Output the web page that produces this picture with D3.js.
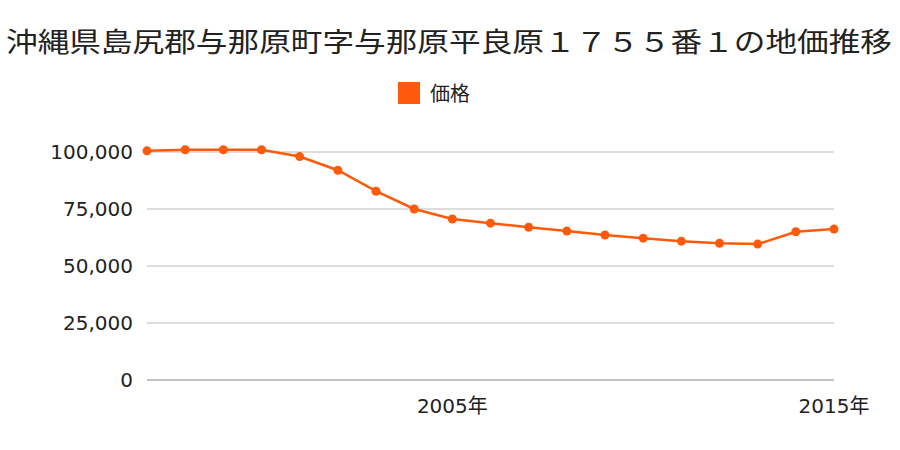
<!DOCTYPE html>
<html><head><meta charset="utf-8">
<script src="https://cdn.jsdelivr.net/npm/d3@7"></script>
<style>body{margin:0;background:#fff;font-family:"Noto Sans CJK JP","Noto Sans",sans-serif;}
.num{font-family:"DejaVu Sans","Noto Sans CJK JP",sans-serif;}</style>
</head><body><div id="chart"></div>
<script>
var years = [1997,1998,1999,2000,2001,2002,2003,2004,2005,2006,2007,2008,2009,2010,2011,2012,2013,2014,2015];
var prices = [100500,101000,101000,101000,98000,92000,82800,75000,70600,68800,67000,65300,63600,62200,60900,60000,59600,65000,66200];
var yTicks = [0,25000,50000,75000,100000];
var xLabels = [2005,2015];

var svg = d3.select("#chart").append("svg").attr("width",900).attr("height",450);
var x = d3.scaleLinear().domain([1997,2015]).range([147,834]);
var y = d3.scaleLinear().domain([0,100000]).range([380,152]);

svg.append("text").attr("x",6).attr("y",52)
	.attr("textLength",886).attr("lengthAdjust","spacingAndGlyphs")
	.style("font-size","27px").attr("fill","#222").text("沖縄県島尻郡与那原町字与那原平良原１７５５番１の地価推移");

svg.append("rect").attr("x",398).attr("y",82).attr("width",22).attr("height",22).attr("fill","#ff5a0a");
svg.append("text").attr("x",430).attr("y",101).style("font-size","20px").attr("fill","#222").text("価格");

svg.selectAll(".grid").data(yTicks).enter().append("line")
	.attr("x1",147).attr("x2",834).attr("y1",d=>y(d)).attr("y2",d=>y(d))
	.attr("stroke",d=>d===0?"#888":"#bbb").attr("stroke-width",1);
svg.selectAll(".yl").data(yTicks).enter().append("text").attr("class","num")
	.attr("x",133).attr("y",d=>y(d)+7).attr("text-anchor","end")
	.style("font-size","20px").attr("fill","#222").text(d=>d3.format(",")(d));
svg.selectAll(".xl").data(xLabels).enter().append("text").attr("class","num")
	.attr("x",d=>x(d)).attr("y",413).attr("text-anchor","middle")
	.style("font-size","20px").attr("fill","#222").text(d=>d+"年");

var line = d3.line().x((d,i)=>x(years[i])).y(d=>y(d));
svg.append("path").datum(prices).attr("d",line).attr("fill","none")
	.attr("stroke","#ff5a0a").attr("stroke-width",2.5);
svg.selectAll(".pt").data(prices).enter().append("circle")
	.attr("cx",(d,i)=>x(years[i])).attr("cy",d=>y(d)).attr("r",4.5).attr("fill","#ff5a0a");
</script></body></html>
